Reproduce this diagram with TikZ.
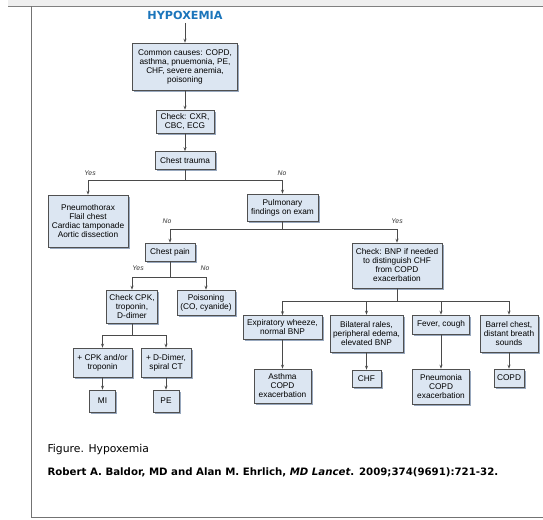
\documentclass[tikz,border=0pt]{standalone}
\usepackage{fontspec}
\setmainfont{Liberation Sans}
\newfontfamily\capfont{DejaVu Sans}
\usetikzlibrary{arrows.meta, shadows}

\definecolor{boxfill}{HTML}{DCE6F2}
\definecolor{boxline}{HTML}{505050}
\definecolor{boxshade}{HTML}{98A8BE}
\definecolor{wire}{HTML}{4A4A4A}
\definecolor{titleblue}{HTML}{1B75BB}
\definecolor{band}{HTML}{EFEFEF}

\begin{document}
\begin{tikzpicture}[
    x=1pt, y=-1pt,
    box/.style = {
        rectangle,
        draw=boxline,
        fill=boxfill,
        line width=0.6pt,
        align=center,
        inner sep=1.5pt,
        font=\fontsize{8.3}{9}\selectfont,
        drop shadow={shadow xshift=1.8pt, shadow yshift=-1.8pt, fill=boxshade, opacity=1}
    },
    arr/.style = {draw=wire, line width=0.8pt, -{Stealth[length=4pt, width=3pt]}},
    wire/.style = {draw=wire, line width=0.8pt},
    lbl/.style = {font=\fontsize{6.8}{7}\selectfont\itshape, text=black!80}
]
\useasboundingbox (0,0) rectangle (543,519);

% page frame
\fill[band] (8,0) rectangle (543,6);
\draw[gray, line width=1pt] (8,6.5) -- (543,6.5);
\draw[gray!90!black, line width=1pt] (31.5,6.5) -- (31.5,517.5) -- (543,517.5);

% Title
\node[font=\capfont\bfseries\fontsize{11.2}{12}\selectfont, text=titleblue] (title) at (185,15) {HYPOXEMIA};

% Nodes with explicit coordinates
\node[box, minimum width=105, minimum height=47] (causes) at (185,66.5) {Common causes: COPD,\\asthma, pnuemonia, PE,\\CHF, severe anemia,\\poisoning};
\node[box, minimum width=58, minimum height=23] (tests) at (185,121.5) {Check: CXR,\\CBC, ECG};
\node[box, minimum width=60, minimum height=18] (trauma) at (185,160.5) {Chest trauma};

\node[box, minimum width=80, minimum height=52] (thorax) at (88,221) {Pneumothorax\\Flail chest\\Cardiac tamponade\\Aortic dissection};
\node[box, minimum width=71, minimum height=27] (pulm) at (282.5,207.5) {Pulmonary\\findings on exam};

\node[box, minimum width=50, minimum height=18] (pain) at (170,252) {Chest pain};
\node[box, minimum width=90, minimum height=45] (bnp) at (397,265.5) {Check: BNP if needed\\to distinguish CHF\\from COPD\\exacerbation};

\node[box, minimum width=51, minimum height=33] (cpk) at (132,306.5) {Check CPK,\\troponin,\\D-dimer};
\node[box, minimum width=58, minimum height=25] (poison) at (206,302.5) {Poisoning\\(CO, cyanide)};

\node[box, minimum width=59, minimum height=29] (cpkpos) at (102.5,362.5) {+ CPK and/or\\troponin};
\node[box, minimum width=50, minimum height=29] (ddimer) at (166,362.5) {+ D-Dimer,\\spiral CT};
\node[box, minimum width=26, minimum height=22] (mi) at (102.5,401) {MI};
\node[box, minimum width=26, minimum height=22] (pe) at (166,401) {PE};

\node[box, minimum width=79, minimum height=24] (wheeze) at (282.5,327.5) {Expiratory wheeze,\\normal BNP};
\node[box, minimum width=73, minimum height=37] (rales) at (366.5,333.5) {Bilateral rales,\\peripheral edema,\\elevated BNP};
\node[box, minimum width=57, minimum height=19] (fever) at (441,324.5) {Fever, cough};
\node[box, minimum width=58, minimum height=37] (barrel) at (509,333.5) {Barrel chest,\\distant breath\\sounds};

\node[box, minimum width=57, minimum height=34] (asthma) at (282.5,386) {Asthma\\COPD\\exacerbation};
\node[box, minimum width=29, minimum height=17] (chf) at (366.5,378.5) {CHF};
\node[box, minimum width=57, minimum height=35] (pneu) at (441,386.5) {Pneumonia\\COPD\\exacerbation};
\node[box, minimum width=30, minimum height=18] (copd) at (509,378) {COPD};

% branch points
\coordinate (j1) at (185,180.7);
\coordinate (j2) at (282.5,229);
\coordinate (j3) at (170,277);
\coordinate (j4) at (132,335);
\coordinate (j5) at (397,301);

% Arrows (main pipeline)
\draw[arr] (title) -- (causes);
\draw[arr] (causes) -- (tests);
\draw[arr] (tests) -- (trauma);

% Chest trauma: yes / no
\draw[wire] (trauma) -- (j1);
\draw[arr] (j1) -| (thorax);
\draw[arr] (j1) -| (pulm);

% Pulmonary findings: no / yes
\draw[wire] (pulm) -- (j2);
\draw[arr] (j2) -| (pain);
\draw[arr] (j2) -| (bnp);

% Chest pain
\draw[wire] (pain) -- (j3);
\draw[arr] (j3) -| (cpk);
\draw[arr] (j3) -| (poison);

\draw[wire] (cpk) -- (j4);
\draw[arr] (j4) -| (cpkpos);
\draw[arr] (j4) -| (ddimer);
\draw[arr] (cpkpos) -- (mi);
\draw[arr] (ddimer) -- (pe);

% BNP branches
\draw[wire] (bnp) -- (j5);
\draw[arr] (j5) -| (wheeze);
\draw[arr] (j5) -| (rales);
\draw[arr] (j5) -| (fever);
\draw[arr] (j5) -| (barrel);
\draw[arr] (wheeze) -- (asthma);
\draw[arr] (rales) -- (chf);
\draw[arr] (fever) -- (pneu);
\draw[arr] (barrel) -- (copd);

% Yes/No labels
\node[lbl] (y1) at (90,173) {Yes};
\node[lbl] (n1) at (282,173) {No};
\node[lbl] (n2) at (167,221) {No};
\node[lbl] (y2) at (397,221) {Yes};
\node[lbl] (y3) at (138,268) {Yes};
\node[lbl] (n3) at (205,268) {No};

% caption
\node[anchor=west, font=\capfont\fontsize{10.8}{12}\selectfont] (figcap) at (44,450) {Figure. Hypoxemia};
\node[anchor=west, font=\capfont\bfseries\fontsize{10.2}{12}\selectfont] (cite) at (44,472)
    {Robert A. Baldor, MD and Alan M. Ehrlich, \textit{MD Lancet}. 2009;374(9691):721-32.};

\end{tikzpicture}
\end{document}
